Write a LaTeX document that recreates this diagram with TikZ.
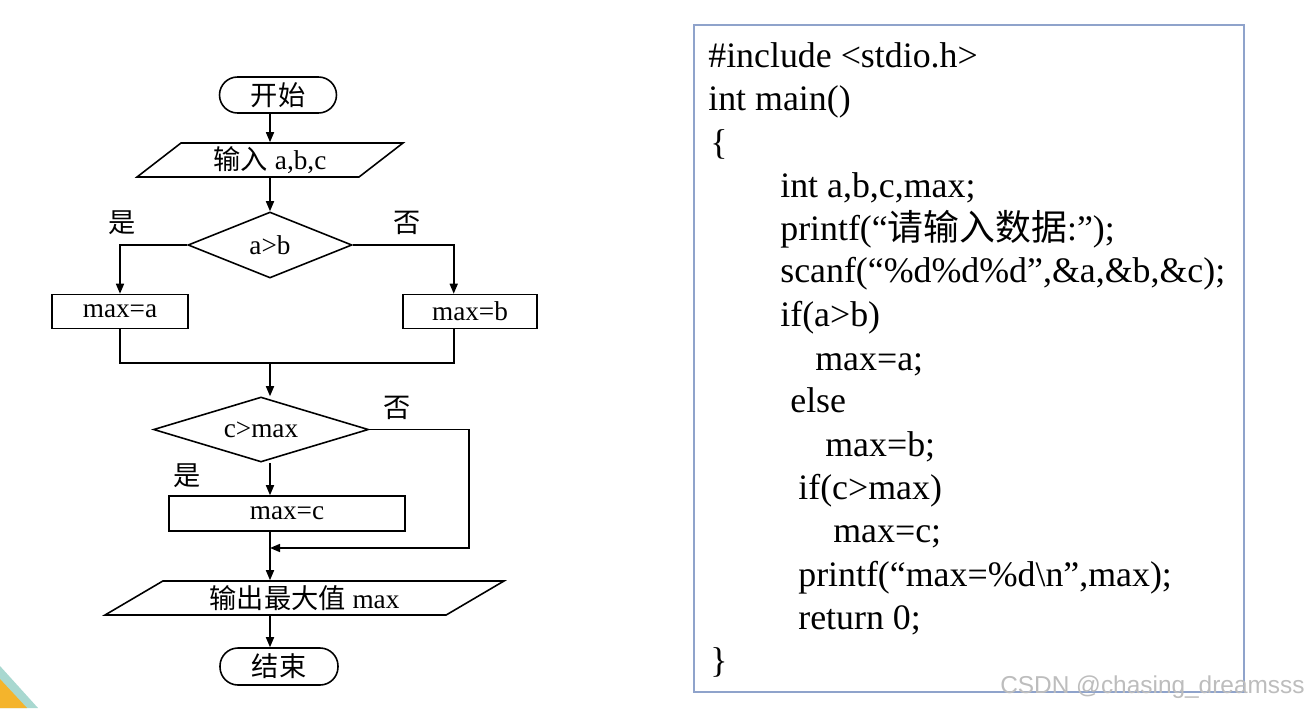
\documentclass[tikz,border=0pt]{standalone}
\usepackage{fontspec}
\setmainfont{Liberation Serif}
\newfontfamily\cjk{Noto Sans CJK SC}
\newfontfamily\wmfont{Liberation Sans}
\usetikzlibrary{arrows.meta, shapes.geometric, calc}
\definecolor{codeframe}{HTML}{8FA3CB}
\definecolor{wmgray}{HTML}{BDBDBD}
\definecolor{slideorange}{HTML}{F4B42C}
\definecolor{slideteal}{HTML}{A8D8D0}

\tikzset{
  flow/.style={draw, line width=0.9pt, font=\fontsize{15.5}{18}\selectfont, inner sep=0pt},
  term/.style={flow, rectangle, rounded corners=0.36cm, minimum width=2.34cm, minimum height=0.72cm},
  proc/.style={flow, rectangle, minimum height=0.68cm},
  io/.style={flow, trapezium, trapezium stretches body, minimum height=0.68cm},
  test/.style={flow, diamond},
  wire/.style={line width=0.9pt},
  arr/.style={wire, -{Triangle[length=2mm, width=1.6mm]}},
  lbl/.style={font=\cjk\fontsize{15.5}{18}\selectfont, inner sep=0pt},
  code/.style={anchor=base west, inner sep=0pt, font=\fontsize{20.4}{24}\selectfont},
}

\begin{document}
\begin{tikzpicture}[x=0.02cm, y=-0.02cm]

% Canvas
\useasboundingbox[fill=white] (0,0) rectangle (1309,708);

% Slide corner
\fill[slideteal] (0,666) -- (38,708) -- (0,708) -- cycle;
\fill[slideorange] (0,679) -- (27,708) -- (0,708) -- cycle;

% Flowchart nodes
\node[term] (start) at (278,95) {\cjk 开始};
\node[io, trapezium left angle=31.7, trapezium right angle=148.3, minimum width=5.32cm] (in) at (270,160) {{\cjk 输入} a,b,c};
\node[test, aspect=2.5, minimum width=3.28cm, minimum height=1.32cm] (d1) at (270,245) {a>b};
\node[proc, minimum width=2.72cm] (ba) at (120,311.5) {max=a};
\node[proc, minimum width=2.68cm] (bb) at (470,311.5) {max=b};
\node[test, aspect=3.3, minimum width=4.3cm, minimum height=1.3cm] (d2) at (261,429.5) {c>max};
\node[proc, minimum width=4.72cm, minimum height=0.7cm] (bc) at (287,513.5) {max=c};
\node[io, trapezium left angle=23.5, trapezium right angle=156.5, minimum width=7.98cm] (out) at (304.5,598) {{\cjk 输出最大值} max};
\node[term, minimum width=2.36cm, minimum height=0.74cm] (stop) at (279,666.5) {\cjk 结束};

% Branch labels
\node[lbl] (yes1) at (122,223) {是};
\node[lbl] (no1) at (407,223) {否};
\node[lbl] (no2) at (397,408) {否};
\node[lbl] (yes2) at (187,476) {是};

% Connectors
\coordinate (m) at (270,363);
\coordinate (k) at (270,548);
\draw[arr] (start.south -| in.north) -- (in.north);
\draw[arr] (in.south) -- (d1.north);
\draw[arr] (d1.west) -| (ba.north);
\draw[arr] (d1.east) -| ($(bb.north west)!0.38!(bb.north east)$);
\draw[wire] (ba.south) |- (m) -| ($(bb.south west)!0.38!(bb.south east)$);
\draw[arr] (m) -- (m |- d2.north);
\draw[arr] (m |- d2.south) -- (m |- bc.north);
\draw[arr] (d2.east) -| ($(k)+(199,0)$) -- (k);
\draw[arr] (m |- bc.south) -- (m |- out.north);
\draw[arr] (m |- out.south) -- (m |- stop.north);

% Code panel
\draw[codeframe, line width=1.1pt] (694,25) rectangle (1244,692);
\node[code] (c1) at (708,67) {\#include <stdio.h>};
\node[code] (c2) at (708,110) {int main()};
\node[code] (c3) at (710,154) {\{};
\node[code] (c4) at (780,197) {int a,b,c,max;};
\node[code] (c5) at (780,240) {printf(“{\cjk 请输入数据}:”);};
\node[code] (c6) at (780,282) {scanf(“\%d\%d\%d”,\&a,\&b,\&c);};
\node[code] (c7) at (780,326) {if(a>b)};
\node[code] (c8) at (815,370) {max=a;};
\node[code] (c9) at (790,412) {else};
\node[code] (c10) at (825,456) {max=b;};
\node[code] (c11) at (798,499) {if(c>max)};
\node[code] (c12) at (833,542) {max=c;};
\node[code] (c13) at (798,586) {printf(“max=\%d\textbackslash n”,max);};
\node[code] (c14) at (798,629) {return 0;};
\node[code] (c15) at (710,672) {\}};

% Watermark
\node[font=\wmfont\fontsize{13.9}{16}\selectfont, text=wmgray, anchor=base east, inner sep=0pt] (wm) at (1305,693) {CSDN @chasing\_dreamsss};

\end{tikzpicture}
\end{document}
